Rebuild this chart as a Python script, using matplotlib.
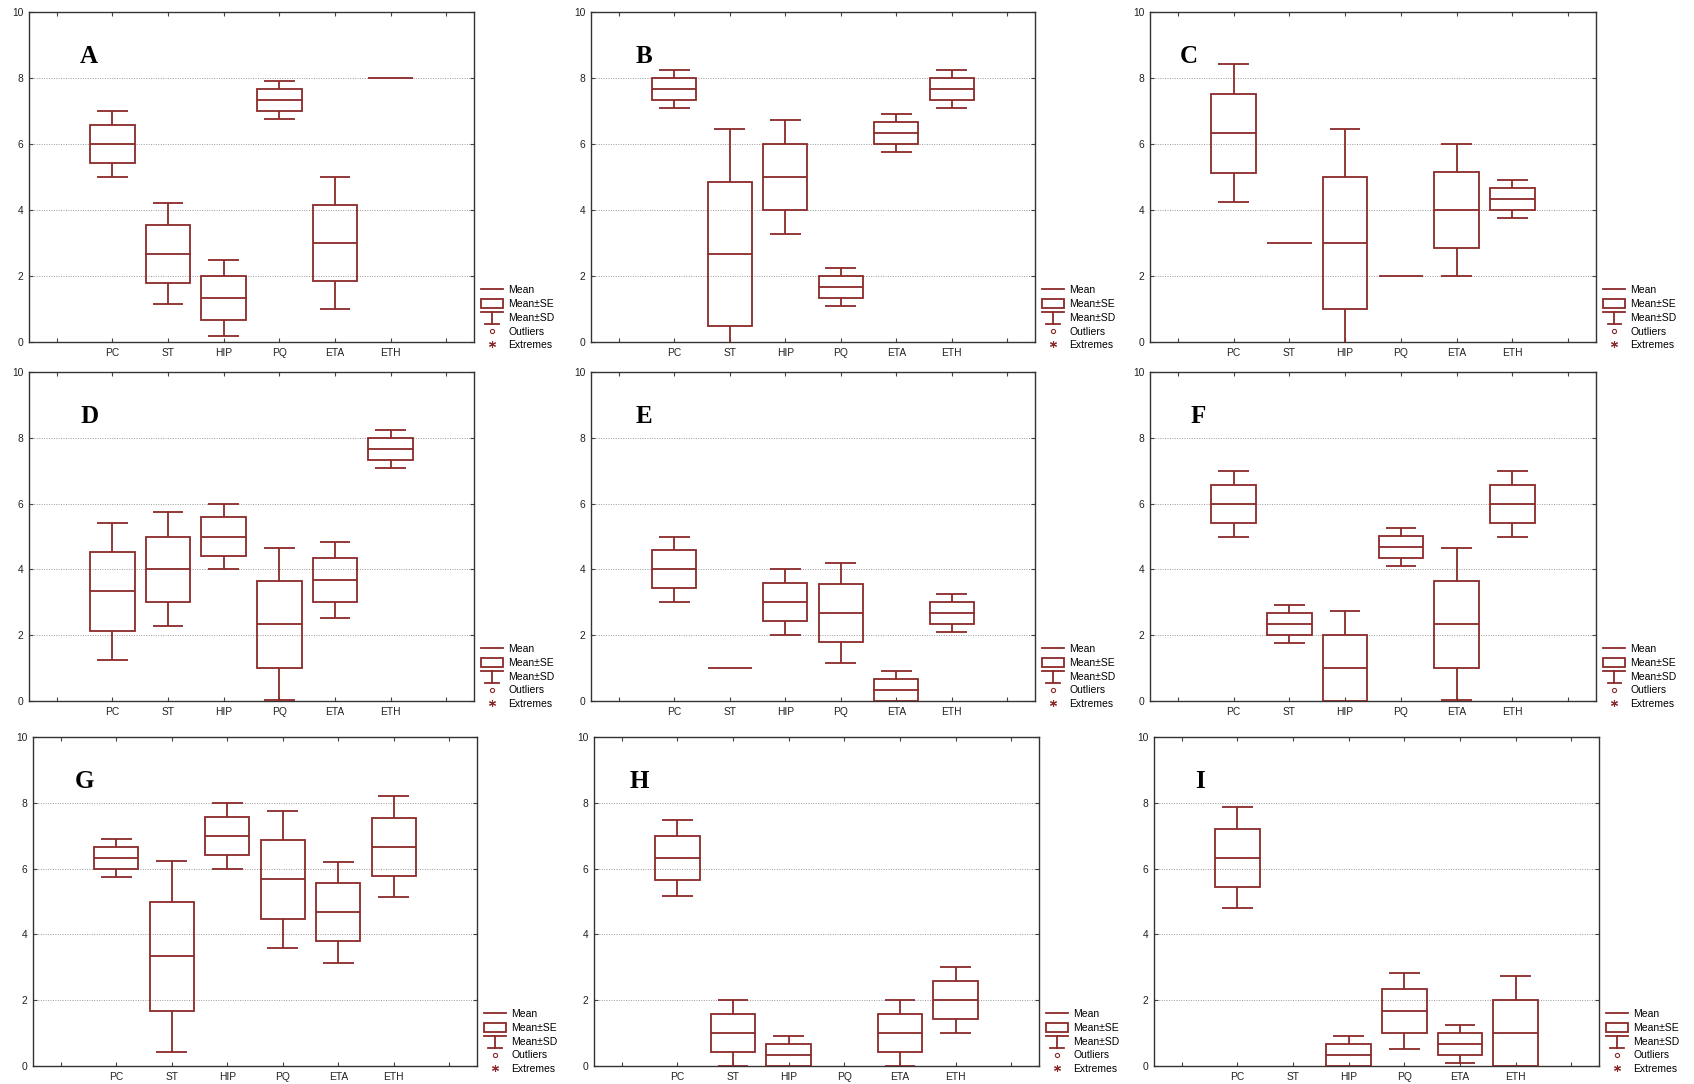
import numpy as np
import matplotlib
matplotlib.use("Agg")
import matplotlib.pyplot as plt
from matplotlib.lines import Line2D
from matplotlib.patches import Patch
from matplotlib.legend_handler import HandlerBase

# categories on the x axis
cats = ["PC", "ST", "HIP", "PQ", "ETA", "ETH"]
panel_names = ["A", "B", "C", "D", "E", "F", "G", "H", "I"]
nan = float("nan")

# mean, standard error and standard deviation per category, one set per panel
# (nan = nothing drawn for that category)
means_A = [6.0, 2.67, 1.33, 7.33, 3.0, 8.0]
se_A = [0.58, 0.88, 0.67, 0.33, 1.15, 0.0]
sd_A = [1.0, 1.53, 1.15, 0.58, 2.0, 0.0]

means_B = [7.67, 2.67, 5.0, 1.67, 6.33, 7.67]
se_B = [0.33, 2.19, 1.0, 0.33, 0.33, 0.33]
sd_B = [0.58, 3.77, 1.73, 0.58, 0.58, 0.58]

means_C = [6.33, 3.0, 3.0, 2.0, 4.0, 4.33]
se_C = [1.2, 0.0, 2.0, 0.0, 1.15, 0.33]
sd_C = [2.08, 0.0, 3.46, 0.0, 2.0, 0.58]

means_D = [3.33, 4.0, 5.0, 2.33, 3.67, 7.67]
se_D = [1.2, 1.0, 0.58, 1.33, 0.67, 0.33]
sd_D = [2.08, 1.73, 1.0, 2.31, 1.15, 0.58]

means_E = [4.0, 1.0, 3.0, 2.67, 0.33, 2.67]
se_E = [0.58, 0.0, 0.58, 0.88, 0.33, 0.33]
sd_E = [1.0, 0.0, 1.0, 1.53, 0.58, 0.58]

means_F = [6.0, 2.33, 1.0, 4.67, 2.33, 6.0]
se_F = [0.58, 0.33, 1.0, 0.33, 1.33, 0.58]
sd_F = [1.0, 0.58, 1.73, 0.58, 2.31, 1.0]

means_G = [6.33, 3.33, 7.0, 5.67, 4.67, 6.67]
se_G = [0.33, 1.67, 0.58, 1.2, 0.88, 0.88]
sd_G = [0.58, 2.89, 1.0, 2.08, 1.53, 1.53]

means_H = [6.33, 1.0, 0.33, nan, 1.0, 2.0]
se_H = [0.67, 0.58, 0.33, nan, 0.58, 0.58]
sd_H = [1.15, 1.0, 0.58, nan, 1.0, 1.0]

means_I = [6.33, nan, 0.33, 1.67, 0.67, 1.0]
se_I = [0.88, nan, 0.33, 0.67, 0.33, 1.0]
sd_I = [1.53, nan, 0.58, 1.15, 0.58, 1.73]

all_means = [means_A, means_B, means_C, means_D, means_E, means_F, means_G, means_H, means_I]
all_se = [se_A, se_B, se_C, se_D, se_E, se_F, se_G, se_H, se_I]
all_sd = [sd_A, sd_B, sd_C, sd_D, sd_E, sd_F, sd_G, sd_H, sd_I]

col = "#8b2a2a"
lw = 1.3

W, H = 1694, 1084
# axes boxes in pixels: left, top, right, bottom
boxes = [(29, 12, 474, 342), (591, 12, 1035, 342), (1150, 12, 1596, 342),
         (29, 372, 474, 701), (591, 372, 1035, 701), (1150, 372, 1596, 701),
         (33, 737, 477, 1066), (594, 737, 1039, 1066), (1154, 737, 1599, 1066)]
label_x = [0.115, 0.10, 0.067, 0.115, 0.10, 0.09, 0.095, 0.08, 0.092]


class SDHandler(HandlerBase):
    def create_artists(self, legend, orig_handle, xdescent, ydescent,
                       width, height, fontsize, trans):
        x0 = -xdescent
        cx = x0 + width / 2
        top = -ydescent + height * 1.15
        bot = -ydescent - height * 0.25
        l1 = Line2D([x0, x0 + width], [top, top], color=col, lw=lw, transform=trans)
        l2 = Line2D([cx, cx], [top, bot], color=col, lw=lw, transform=trans)
        l3 = Line2D([cx - width * 0.3, cx + width * 0.3], [bot, bot], color=col,
                    lw=lw, transform=trans)
        return [l1, l2, l3]


class SDKey:
    pass


plt.rcParams["font.family"] = ["Liberation Sans", "DejaVu Sans"]
fig = plt.figure(figsize=(W / 100, H / 100), dpi=100)

for k in range(9):
    l, t, r, b = boxes[k]
    ax = fig.add_axes([l / W, 1 - b / H, (r - l) / W, (b - t) / H])
    m = np.array(all_means[k])
    se = np.array(all_se[k])
    sd = np.array(all_sd[k])
    xs = np.arange(1, len(cats) + 1)

    for i in range(len(cats)):
        x = xs[i]
        if np.isnan(m[i]):
            continue
        if se[i] == 0 and sd[i] == 0:
            ax.hlines(m[i], x - 0.4, x + 0.4, color=col, lw=lw, zorder=3)
            continue
        ax.bar(x, 2 * se[i], bottom=m[i] - se[i], width=0.8, fill=False,
               edgecolor=col, linewidth=lw, zorder=3)
        ax.hlines(m[i], x - 0.4, x + 0.4, color=col, lw=lw, zorder=3)
        ax.vlines(x, m[i] + se[i], m[i] + sd[i], color=col, lw=lw, zorder=3)
        ax.vlines(x, m[i] - sd[i], m[i] - se[i], color=col, lw=lw, zorder=3)
        ax.hlines([m[i] + sd[i], m[i] - sd[i]], x - 0.275, x + 0.275,
                  color=col, lw=lw, zorder=3)

    ax.set_xlim(-0.5, 7.5)
    ax.set_ylim(0, 10)
    ax.set_xticks(range(8))
    ax.set_xticklabels([""] + cats + [""])
    ax.set_yticks(range(0, 11, 2))
    ax.tick_params(direction="in", length=3, width=0.8, labelsize=7.4,
                   top=True, right=True, pad=4, color="#444444",
                   labelcolor="#222222")
    for y in [2, 4, 6, 8]:
        ax.axhline(y, color="#9a9a9a", lw=0.7, ls=(0, (1, 1.5)), zorder=1)
    for s in ax.spines.values():
        s.set_color("#333333")
        s.set_linewidth(1.0)

    ax.text(label_x[k], 0.845, panel_names[k], transform=ax.transAxes,
            fontsize=18, fontweight="bold", family="Liberation Serif",
            ha="left", va="baseline")

    handles = [
        Line2D([], [], color=col, lw=lw),
        Patch(facecolor="white", edgecolor=col, linewidth=lw),
        SDKey(),
        Line2D([], [], color=col, lw=0, marker="o", markersize=3,
               markerfacecolor="white", markeredgewidth=0.8),
        Line2D([], [], color=col, lw=0, marker=(6, 2, 0), markersize=5,
               markeredgewidth=0.8),
    ]
    labels = ["Mean", "Mean\u00b1SE", "Mean\u00b1SD", "Outliers", "Extremes"]
    ax.legend(handles, labels, handler_map={SDKey: SDHandler()},
              loc="lower left", bbox_to_anchor=(1.016, -0.025), frameon=False,
              fontsize=7.5, handlelength=2.1, handleheight=0.9,
              handletextpad=0.5, labelspacing=0.36, borderpad=0,
              borderaxespad=0)

fig.savefig("out.png", dpi=100)
